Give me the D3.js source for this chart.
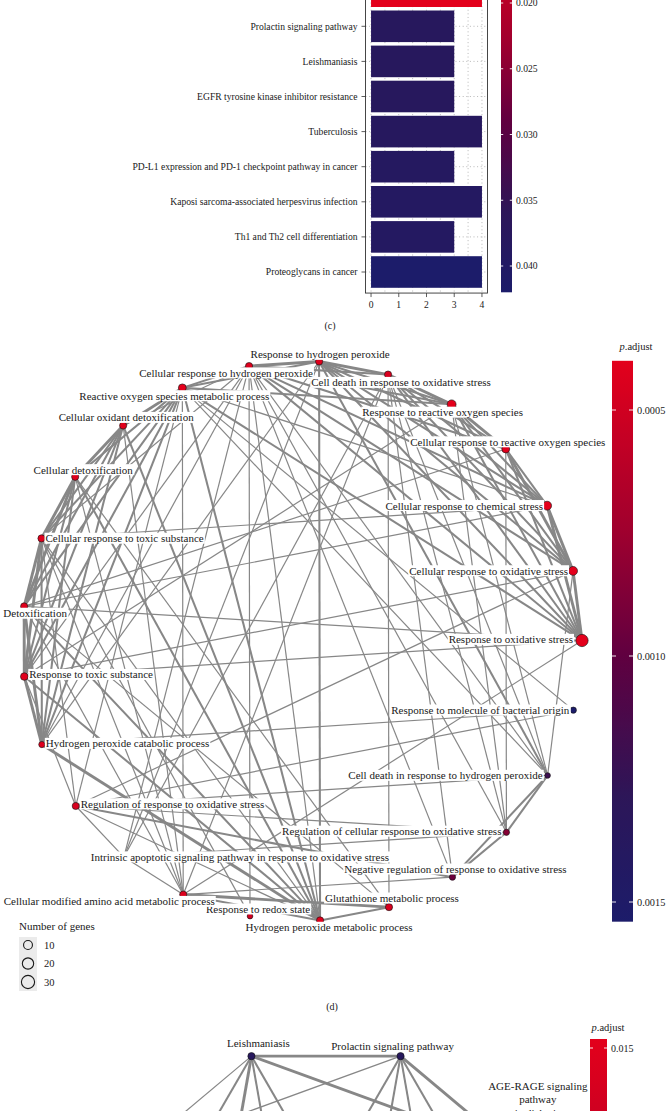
<!DOCTYPE html>
<html><head><meta charset="utf-8">
<script src="https://cdn.jsdelivr.net/npm/d3@7"></script>
<style>
body{margin:0;background:#fff}
svg{display:block}
text{font-family:"Liberation Serif","Times New Roman",serif;fill:#1a1a1a}
</style>
</head><body>
<svg id="fig" width="667" height="1111"></svg>
<script>
// ================= DATA =================
// (c) KEGG bar chart (top bar is cut off at the top of the picture)
const barCategories = [
  "AGE-RAGE signaling pathway in diabetic complications",
  "Prolactin signaling pathway",
  "Leishmaniasis",
  "EGFR tyrosine kinase inhibitor resistance",
  "Tuberculosis",
  "PD-L1 expression and PD-1 checkpoint pathway in cancer",
  "Kaposi sarcoma-associated herpesvirus infection",
  "Th1 and Th2 cell differentiation",
  "Proteoglycans in cancer"
];
const barCounts = [4, 3, 3, 3, 4, 3, 4, 3, 4];
const barPadj = [0.0147, 0.0378, 0.0378, 0.0378, 0.0381, 0.0386, 0.0389, 0.0389, 0.0420];
const barXTicks = [0, 1, 2, 3, 4];
const barColorTicks = [0.020, 0.025, 0.030, 0.035, 0.040];

// (d) GO enrichment map, nodes in circular order (clockwise from top)
const netTerms = [
  "Response to hydrogen peroxide",
  "Cell death in response to oxidative stress",
  "Response to reactive oxygen species",
  "Cellular response to reactive oxygen species",
  "Cellular response to chemical stress",
  "Cellular response to oxidative stress",
  "Response to oxidative stress",
  "Response to molecule of bacterial origin",
  "Cell death in response to hydrogen peroxide",
  "Regulation of cellular response to oxidative stress",
  "Negative regulation of response to oxidative stress",
  "Glutathione metabolic process",
  "Hydrogen peroxide metabolic process",
  "Response to redox state",
  "Cellular modified amino acid metabolic process",
  "Intrinsic apoptotic signaling pathway in response to oxidative stress",
  "Regulation of response to oxidative stress",
  "Hydrogen peroxide catabolic process",
  "Response to toxic substance",
  "Detoxification",
  "Cellular response to toxic substance",
  "Cellular detoxification",
  "Cellular oxidant detoxification",
  "Reactive oxygen species metabolic process",
  "Cellular response to hydrogen peroxide"
];
const netGenes = [5, 5, 10, 7, 10, 10, 25, 3, 2, 3, 3, 5, 5, 2, 5, 4, 5, 3, 6, 5, 5, 5, 5, 7, 5];
const netPadj = [0.00042, 0.00045, 0.00040, 0.00041, 0.00040, 0.00040, 0.00040, 0.00154, 0.00120, 0.00085,
                 0.00095, 0.00046, 0.00042, 0.00050, 0.00044, 0.00060, 0.00046, 0.00043, 0.00041, 0.00042,
                 0.00042, 0.00042, 0.00042, 0.00040, 0.00043];
// edges: [source index, target index, similarity weight 1..3]
const netEdges = [
  [0,24,3],[0,1,3],[0,2,2],[0,3,2],[0,4,2],[0,5,2],[0,6,2],[0,8,2],[0,15,1],[0,23,2],[0,12,2],[0,17,1],
  [1,2,3],[1,3,2],[1,4,2],[1,5,2],[1,6,2],[1,8,1],[1,9,1],[1,10,1],[1,15,1],[1,11,1],[1,24,2],[1,14,1],
  [2,3,3],[2,4,2],[2,5,2],[2,6,2],[2,8,1],[2,9,1],[2,24,2],[2,23,2],[2,18,1],
  [3,4,2],[3,5,3],[3,6,2],[3,9,1],[3,24,2],[3,19,1],
  [4,5,3],[4,6,3],[4,24,2],[4,23,1],[4,19,1],[4,20,1],
  [5,6,3],[5,8,1],[5,24,2],[5,18,1],[5,16,1],
  [6,24,2],[6,23,2],[6,18,1],[6,19,1],[6,14,1],
  [7,23,1],[7,16,1],[7,17,1],
  [8,9,2],[8,10,2],[8,24,1],[8,16,1],[8,23,1],
  [9,10,2],[9,16,1],[9,24,1],[9,15,1],
  [10,16,2],[10,14,1],[10,24,1],
  [11,14,3],[11,12,2],[11,19,1],[11,21,1],
  [12,17,3],[12,23,2],[12,22,2],[12,21,2],[12,20,1],[12,19,2],[12,18,2],[12,24,1],[12,14,2],[12,16,1],
  [13,24,1],[13,20,1],
  [14,21,1],[14,22,1],[14,19,1],[14,20,1],[14,23,1],[14,15,1],
  [15,16,1],[15,24,1],
  [16,23,1],[16,20,1],[16,18,1],
  [17,18,3],[17,19,3],[17,20,2],[17,21,2],[17,22,2],[17,23,2],[17,24,1],
  [18,19,3],[18,20,3],[18,21,2],[18,22,2],[18,23,2],[18,24,1],
  [19,20,3],[19,21,3],[19,22,2],[19,23,2],
  [20,21,3],[20,22,2],[20,23,2],[20,24,1],
  [21,22,3],[21,23,2],
  [22,23,3],[22,24,1],
  [23,24,2]
];
const netPadjTicks = [0.0005, 0.0010, 0.0015];
const sizeLegendBreaks = [10, 20, 30];

// (e) KEGG enrichment map (only its top is visible), circular order from top
const keggTerms = [
  "Prolactin signaling pathway",
  "AGE-RAGE signaling pathway in diabetic complications",
  "EGFR tyrosine kinase inhibitor resistance",
  "Th1 and Th2 cell differentiation",
  "PD-L1 expression and PD-1 checkpoint pathway in cancer",
  "Tuberculosis",
  "Kaposi sarcoma-associated herpesvirus infection",
  "Proteoglycans in cancer",
  "Leishmaniasis"
];
const keggPadj = [0.0378, 0.0147, 0.0378, 0.0389, 0.0386, 0.0381, 0.0389, 0.0420, 0.0378];
const keggEdges = [
  [8,0,3],[8,1,3],[8,7,1],[8,6,2],[8,5,3],[8,4,2],[8,3,2],
  [0,1,3],[0,7,1],[0,5,2],[0,4,2],[0,3,2],[0,2,2]
];
const keggPadjTicks = [0.015];

// ================= DRAWING =================
const W = 667, H = 1111;
const svg = d3.select("#fig");
const defs = svg.append("defs");
const colorPos = [0, 0.3, 0.53, 0.78, 1];
const colorStops = ["#e3001b", "#a0002e", "#5f0040", "#2c1658", "#1c1c6a"];
function makeColor(ext) {
  return d3.scaleLinear().domain(colorPos.map(p => ext[0] + p * (ext[1] - ext[0])))
    .range(colorStops).interpolate(d3.interpolateRgb).clamp(true);
}
function addGradient(id, color, ext) {
  const g = defs.append("linearGradient").attr("id", id)
    .attr("x1", 0).attr("y1", 0).attr("x2", 0).attr("y2", 1);
  d3.range(0, 41).forEach(k => {
    const v = ext[0] + k / 40 * (ext[1] - ext[0]);
    g.append("stop").attr("offset", k / 40).attr("stop-color", color(v));
  });
}
const inView = y => y > -4 && y < H + 4;
function colorbar(g, id, color, ext, yScale, x, w, ticks, fmt, fs, tickLen) {
  addGradient(id, color, ext);
  g.append("rect").attr("x", x).attr("y", yScale(ext[0])).attr("width", w)
    .attr("height", yScale(ext[1]) - yScale(ext[0])).attr("fill", `url(#${id})`);
  ticks.forEach(t => {
    const y = yScale(t);
    g.append("line").attr("x1", x).attr("x2", x + tickLen).attr("y1", y).attr("y2", y)
      .attr("stroke", "#fff").attr("stroke-width", 0.9);
    g.append("line").attr("x1", x + w - tickLen).attr("x2", x + w).attr("y1", y).attr("y2", y)
      .attr("stroke", "#fff").attr("stroke-width", 0.9);
    g.append("text").attr("x", x + w + 4).attr("y", y).attr("dy", "0.35em")
      .style("font-size", fs + "px").text(fmt(t));
  });
}

// ---------- (c) bar chart ----------
const gc = svg.append("g");
const bx = d3.scaleLinear().domain([-0.2, 4.2]).range([365.5, 487.5]);
const by = d3.scalePoint().domain(barCategories).range([-8.8, 272]);
const step = by.step();
const panelTop = by(barCategories[0]) - 0.6 * step;
const panelBottom = by(barCategories[barCategories.length - 1]) + 0.6 * step;
const barColor = makeColor(d3.extent(barPadj));
d3.range(0, 4.01, 0.5).forEach(v => {
  gc.append("line").attr("x1", bx(v)).attr("x2", bx(v)).attr("y1", panelTop).attr("y2", panelBottom)
    .attr("stroke", "#9a9a9a").attr("stroke-width", 0.7).attr("stroke-dasharray", "1,2.6");
});
barCategories.forEach(c => {
  gc.append("line").attr("x1", bx(-0.2)).attr("x2", bx(4.2)).attr("y1", by(c)).attr("y2", by(c))
    .attr("stroke", "#9a9a9a").attr("stroke-width", 0.7).attr("stroke-dasharray", "1,2.6");
});
gc.selectAll("rect.bar").data(barCategories).join("rect").attr("class", "bar")
  .attr("x", bx(0)).attr("y", c => by(c) - 0.45 * step)
  .attr("width", (c, i) => bx(barCounts[i]) - bx(0)).attr("height", 0.9 * step)
  .attr("fill", (c, i) => barColor(barPadj[i]));
gc.append("rect").attr("x", bx(-0.2)).attr("y", panelTop).attr("width", bx(4.2) - bx(-0.2))
  .attr("height", panelBottom - panelTop).attr("fill", "none").attr("stroke", "#333").attr("stroke-width", 0.9);
barCategories.forEach(c => {
  gc.append("line").attr("x1", bx(-0.2) - 4).attr("x2", bx(-0.2)).attr("y1", by(c)).attr("y2", by(c))
    .attr("stroke", "#333").attr("stroke-width", 0.8);
  if (inView(by(c)) && by(c) > 4) {
    gc.append("text").attr("x", bx(-0.2) - 8).attr("y", by(c)).attr("dy", "0.35em")
      .attr("text-anchor", "end").style("font-size", "9.6px").text(c);
  }
});
barXTicks.forEach(t => {
  gc.append("line").attr("x1", bx(t)).attr("x2", bx(t)).attr("y1", panelBottom).attr("y2", panelBottom + 4)
    .attr("stroke", "#333").attr("stroke-width", 0.8);
  gc.append("text").attr("x", bx(t)).attr("y", panelBottom + 12).attr("dy", "0.35em")
    .attr("text-anchor", "middle").style("font-size", "9.6px").text(t);
});
const cbc = d3.scaleLinear().domain([0.020, 0.040]).range([3, 266]);
colorbar(gc, "gradC", barColor, d3.extent(barPadj), cbc, 501, 11, barColorTicks, d3.format(".3f"), 9.6, 2.2);
gc.append("text").attr("x", 330).attr("y", 325).attr("dy", "0.35em").attr("text-anchor", "middle")
  .style("font-size", "10px").text("(c)");

// ---------- (d) network ----------
const gd = svg.append("g");
const dCx = 302, dCy = 641, dR = 280;
const dAngle = d3.scaleLinear().domain([0, netTerms.length]).range([3.5, 363.5].map(a => a * Math.PI / 180));
const dNodes = netTerms.map((t, i) => ({
  name: t, x: dCx + dR * Math.sin(dAngle(i)), y: dCy - dR * Math.cos(dAngle(i)),
  genes: netGenes[i], padj: netPadj[i]
}));
const netExt = [0.00040, 0.00154];
const netColor = makeColor(netExt);
const rScale = d3.scaleSqrt().domain([0, 30]).range([1.5, 6.6]);
const wScale = d3.scaleLinear().domain([1, 3]).range([1.2, 2.9]);
const edgeColor = "#878787";
gd.selectAll("line.e").data(netEdges).join("line").attr("class", "e")
  .attr("x1", d => dNodes[d[0]].x).attr("y1", d => dNodes[d[0]].y)
  .attr("x2", d => dNodes[d[1]].x).attr("y2", d => dNodes[d[1]].y)
  .attr("stroke", edgeColor).attr("stroke-width", d => wScale(d[2]));
gd.selectAll("circle.n").data(dNodes).join("circle").attr("class", "n")
  .attr("cx", d => d.x).attr("cy", d => d.y).attr("r", d => rScale(d.genes))
  .attr("fill", d => netColor(d.padj)).attr("stroke", "#111").attr("stroke-width", 0.6);
// label placement (layout): [dx, dy, anchor]
const dLabelPlace = [
  [1, -7, "middle"], [13, 8, "middle"], [-9, 8, "middle"], [2, -7, "middle"], [-4, 0, "end"],
  [-5, 0, "end"], [-9, -1, "end"], [-4, 0, "end"], [-5, 0, "end"], [-5, -1, "end"],
  [3, -8, "middle"], [3, -9, "middle"], [9, 7, "middle"], [8, -7, "middle"], [-74, 7, "middle"],
  [116, 0, "middle"], [5, -2, "start"], [4, -1, "start"], [5, -2, "start"], [11, 7, "middle"],
  [4, 0, "start"], [8, -7, "middle"], [3, -8, "middle"], [-8, 8, "middle"], [-23, 7, "middle"]
];
dNodes.forEach((n, i) => {
  const p = dLabelPlace[i];
  const lg = gd.append("g");
  const txt = lg.append("text").attr("x", n.x + p[0]).attr("y", n.y + p[1]).attr("dy", "0.35em")
    .attr("text-anchor", p[2]).style("font-size", "11px").text(n.name);
  const bb = txt.node().getBBox();
  lg.insert("rect", "text").attr("x", bb.x - 1).attr("y", bb.y + 0.5).attr("width", bb.width + 2)
    .attr("height", bb.height - 1).attr("fill", "#fff");
});
const cbd = d3.scaleLinear().domain([0.0005, 0.0015]).range([410, 902]);
colorbar(gd, "gradD", netColor, netExt, cbd, 612, 21, netPadjTicks, d3.format(".4f"), 10.3, 4);
const pt = gd.append("text").attr("x", 636).attr("y", 346).attr("dy", "0.35em")
  .attr("text-anchor", "middle").style("font-size", "10.5px");
pt.append("tspan").style("font-style", "italic").text("p");
pt.append("tspan").text(".adjust");
gd.append("text").attr("x", 19).attr("y", 926).attr("dy", "0.35em").style("font-size", "11px").text("Number of genes");
gd.append("rect").attr("x", 19).attr("y", 937).attr("width", 18).attr("height", 54).attr("fill", "#ebebeb");
sizeLegendBreaks.forEach((b, i) => {
  const y = 945 + i * 18.5;
  gd.append("circle").attr("cx", 28).attr("cy", y).attr("r", rScale(b))
    .attr("fill", "none").attr("stroke", "#1a1a1a").attr("stroke-width", 1.1);
  gd.append("text").attr("x", 44).attr("y", y).attr("dy", "0.35em").style("font-size", "10.5px").text(b);
});
gd.append("text").attr("x", 332).attr("y", 1006).attr("dy", "0.35em").attr("text-anchor", "middle")
  .style("font-size", "10px").text("(d)");

// ---------- (e) network (top part) ----------
const ge = svg.append("g");
const eCx = 326, eCy = 1261, eR = 218;
const eAngle = d3.scaleLinear().domain([0, keggTerms.length]).range([20, 380].map(a => a * Math.PI / 180));
const eNodes = keggTerms.map((t, i) => ({
  name: t, x: eCx + eR * Math.sin(eAngle(i)), y: eCy - eR * Math.cos(eAngle(i)), padj: keggPadj[i]
}));
const keggExt = d3.extent(keggPadj);
const keggColor = makeColor(keggExt);
ge.selectAll("line.e").data(keggEdges).join("line").attr("class", "e")
  .attr("x1", d => eNodes[d[0]].x).attr("y1", d => eNodes[d[0]].y)
  .attr("x2", d => eNodes[d[1]].x).attr("y2", d => eNodes[d[1]].y)
  .attr("stroke", edgeColor).attr("stroke-width", d => wScale(d[2]));
ge.selectAll("circle.n").data(eNodes).join("circle").attr("class", "n")
  .attr("cx", d => d.x).attr("cy", d => d.y).attr("r", 3.6)
  .attr("fill", d => keggColor(d.padj)).attr("stroke", "#111").attr("stroke-width", 0.6);
const eLabelPlace = [[-8, -10], [23, -66], [0, -14], [0, -14], [0, -14], [0, -14], [0, -14], [0, -14], [7, -13]];
const eLabelLines = keggTerms.map((t, i) => i === 1 ? ["AGE-RAGE signaling", "pathway", "in diabetic", "complications"] : [t]);
eNodes.forEach((n, i) => {
  const p = eLabelPlace[i];
  eLabelLines[i].forEach((ln, k) => {
    const y = n.y + p[1] + k * 13.5;
    if (!inView(y)) return;
    ge.append("text").attr("x", n.x + p[0]).attr("y", y).attr("dy", "0.35em")
      .attr("text-anchor", "middle").style("font-size", "11px").text(ln);
  });
});
const cbe = d3.scaleLinear().domain([0.0147, 0.015]).range([1039, 1048]);
colorbar(ge, "gradE", keggColor, keggExt, cbe, 590, 17, keggPadjTicks, d3.format(".3f"), 10, 3);
const pe = ge.append("text").attr("x", 608).attr("y", 1027).attr("dy", "0.35em")
  .attr("text-anchor", "middle").style("font-size", "10.5px");
pe.append("tspan").style("font-style", "italic").text("p");
pe.append("tspan").text(".adjust");
</script>
</body></html>
